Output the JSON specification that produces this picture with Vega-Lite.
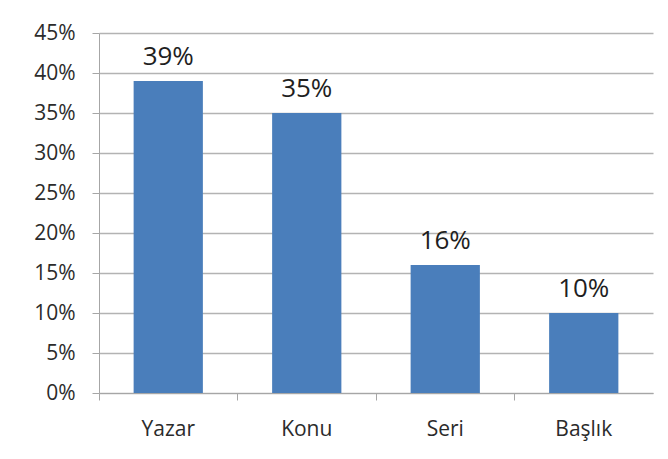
{
  "$schema": "https://vega.github.io/schema/vega-lite/v6.json",
  "autosize": {"type": "none"},
  "width": 554,
  "height": 360,
  "padding": {"left": 99, "top": 33, "right": 15, "bottom": 66},
  "background": "white",
  "config": {"view": {"stroke": null}, "font": "Open Sans"},
  "data": {"values": [
    {"kategori": "Yazar", "oran": 0.39},
    {"kategori": "Konu", "oran": 0.35},
    {"kategori": "Seri", "oran": 0.16},
    {"kategori": "Başlık", "oran": 0.10}
  ]},
  "encoding": {
    "x": {
      "field": "kategori", "type": "nominal", "sort": null,
      "scale": {"paddingInner": 0, "paddingOuter": 0},
      "axis": {
        "title": null, "labelAngle": 0, "bandPosition": 0,
        "domainColor": "#a6a6a6", "tickColor": "#a6a6a6", "tickSize": 7,
        "labelFont": "Open Sans", "labelFontSize": 21, "labelColor": "#2b2b2b",
        "labelPadding": 18, "grid": false
      }
    },
    "y": {
      "field": "oran", "type": "quantitative",
      "scale": {"domain": [0, 0.45], "nice": false},
      "axis": {
        "title": null, "format": ".0%", "values": [0, 0.05, 0.1, 0.15, 0.2, 0.25, 0.3, 0.35, 0.4, 0.45],
        "labelOverlap": false, "labelFlush": false,
        "domainColor": "#a6a6a6", "tickColor": "#a6a6a6", "tickSize": 7,
        "gridColor": "#b3b3b3", "gridWidth": 1.3,
        "labelFont": "Open Sans", "labelFontSize": 21, "labelColor": "#2b2b2b",
        "labelPadding": 17
      }
    }
  },
  "layer": [
    {"mark": {"type": "bar", "color": "#4a7ebb", "width": {"band": 0.5}}},
    {"mark": {"type": "text", "dy": -16, "baseline": "alphabetic", "font": "Open Sans", "fontSize": 26, "color": "#1f1f1f"},
     "encoding": {"text": {"field": "oran", "type": "quantitative", "format": ".0%"}}}
  ]
}
